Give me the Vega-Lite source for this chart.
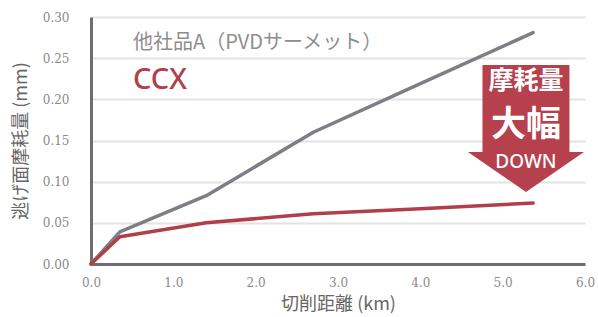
{
  "$schema": "https://vega.github.io/schema/vega-lite/v6.json",
  "width": 494,
  "height": 247,
  "autosize": {"type": "none"},
  "padding": {"left": 91, "top": 17, "right": 13, "bottom": 53},
  "background": "white",
  "config": {"view": {"stroke": null}, "font": "Noto Sans CJK JP"},
  "datasets": {
    "wear": [
      {"product": "他社品A（PVDサーメット）", "km": 0, "mm": 0},
      {"product": "他社品A（PVDサーメット）", "km": 0.35, "mm": 0.039},
      {"product": "他社品A（PVDサーメット）", "km": 1.4, "mm": 0.083},
      {"product": "他社品A（PVDサーメット）", "km": 2.7, "mm": 0.160},
      {"product": "他社品A（PVDサーメット）", "km": 4.0, "mm": 0.219},
      {"product": "他社品A（PVDサーメット）", "km": 5.37, "mm": 0.281},
      {"product": "CCX", "km": 0, "mm": 0},
      {"product": "CCX", "km": 0.35, "mm": 0.033},
      {"product": "CCX", "km": 1.4, "mm": 0.050},
      {"product": "CCX", "km": 2.7, "mm": 0.061},
      {"product": "CCX", "km": 4.0, "mm": 0.067},
      {"product": "CCX", "km": 5.37, "mm": 0.074}
    ]
  },
  "encoding": {
    "x": {
      "field": "km", "type": "quantitative",
      "scale": {"domain": [0, 6], "nice": false, "zero": true},
      "axis": {
        "values": [0, 1, 2, 3, 4, 5, 6], "format": ".1f",
        "grid": false, "ticks": false, "labelFlush": false,
        "domainColor": "#6e6e6e", "domainWidth": 3,
        "labelFont": "DejaVu Serif", "labelFontSize": 12, "labelColor": "#8a8a8a", "labelPadding": 13,
        "title": "切削距離 (km)", "titleFont": "Noto Sans CJK JP", "titleFontSize": 18,
        "titleFontWeight": "normal", "titleColor": "#666666", "titlePadding": 7
      }
    },
    "y": {
      "field": "mm", "type": "quantitative",
      "scale": {"domain": [0, 0.3], "nice": false},
      "axis": {
        "values": [0, 0.05, 0.1, 0.15, 0.2, 0.25, 0.3], "format": ".2f",
        "grid": true, "gridColor": "#e3e3e3", "gridWidth": 2, "ticks": false, "labelFlush": false,
        "domainColor": "#6e6e6e", "domainWidth": 3,
        "labelFont": "DejaVu Serif", "labelFontSize": 12, "labelColor": "#8a8a8a", "labelPadding": 22,
        "title": "逃げ面摩耗量 (mm)", "titleFont": "Noto Sans CJK JP", "titleFontSize": 18,
        "titleFontWeight": "normal", "titleColor": "#666666", "titlePadding": 12
      }
    }
  },
  "layer": [
    {
      "data": {"name": "wear"},
      "mark": {"type": "line", "strokeWidth": 3.5, "strokeJoin": "round", "strokeCap": "round"},
      "encoding": {
        "color": {
          "field": "product", "type": "nominal",
          "scale": {"domain": ["他社品A（PVDサーメット）", "CCX"], "range": ["#7d7f86", "#b13f4a"]},
          "legend": null
        }
      }
    },
    {
      "data": {"values": [{"km": 0.51, "mm": 0.269, "label": "他社品A（PVDサーメット）"}]},
      "mark": {"type": "text", "align": "left", "baseline": "middle", "fontSize": 20, "color": "#8e8e8e", "font": "Noto Sans CJK JP"},
      "encoding": {"text": {"field": "label"}}
    },
    {
      "data": {"values": [{"km": 0.51, "mm": 0.224, "label": "CCX"}]},
      "mark": {"type": "text", "align": "left", "baseline": "middle", "fontSize": 29, "fontWeight": 500, "color": "#b13f4a", "font": "Noto Sans"},
      "encoding": {"text": {"field": "label"}}
    },
    {
      "data": {"values": [{"km": 5.283, "mm": 0.1652}]},
      "mark": {
        "type": "point", "filled": true, "opacity": 1, "strokeWidth": 0, "size": 14400, "color": "#b6414d",
        "shape": "M-0.725,-1.05L0.725,-1.05L0.725,0.4L0.967,0.4L0,1.067L-0.967,0.4L-0.725,0.4Z"
      }
    },
    {
      "data": {"values": [{"km": 5.283, "mm": 0.2223, "label": "摩耗量"}]},
      "mark": {"type": "text", "align": "center", "baseline": "middle", "fontSize": 25, "fontWeight": "bold", "color": "#ffffff", "font": "Noto Sans CJK JP"},
      "encoding": {"text": {"field": "label"}}
    },
    {
      "data": {"values": [{"km": 5.283, "mm": 0.1688, "label": "大幅"}]},
      "mark": {"type": "text", "align": "center", "baseline": "middle", "fontSize": 35, "fontWeight": "bold", "color": "#ffffff", "font": "Noto Sans CJK JP"},
      "encoding": {"text": {"field": "label"}}
    },
    {
      "data": {"values": [{"km": 5.283, "mm": 0.1239, "label": "DOWN"}]},
      "mark": {"type": "text", "align": "center", "baseline": "middle", "fontSize": 19, "fontWeight": 500, "color": "#ffffff", "font": "Noto Sans"},
      "encoding": {"text": {"field": "label"}}
    }
  ]
}
